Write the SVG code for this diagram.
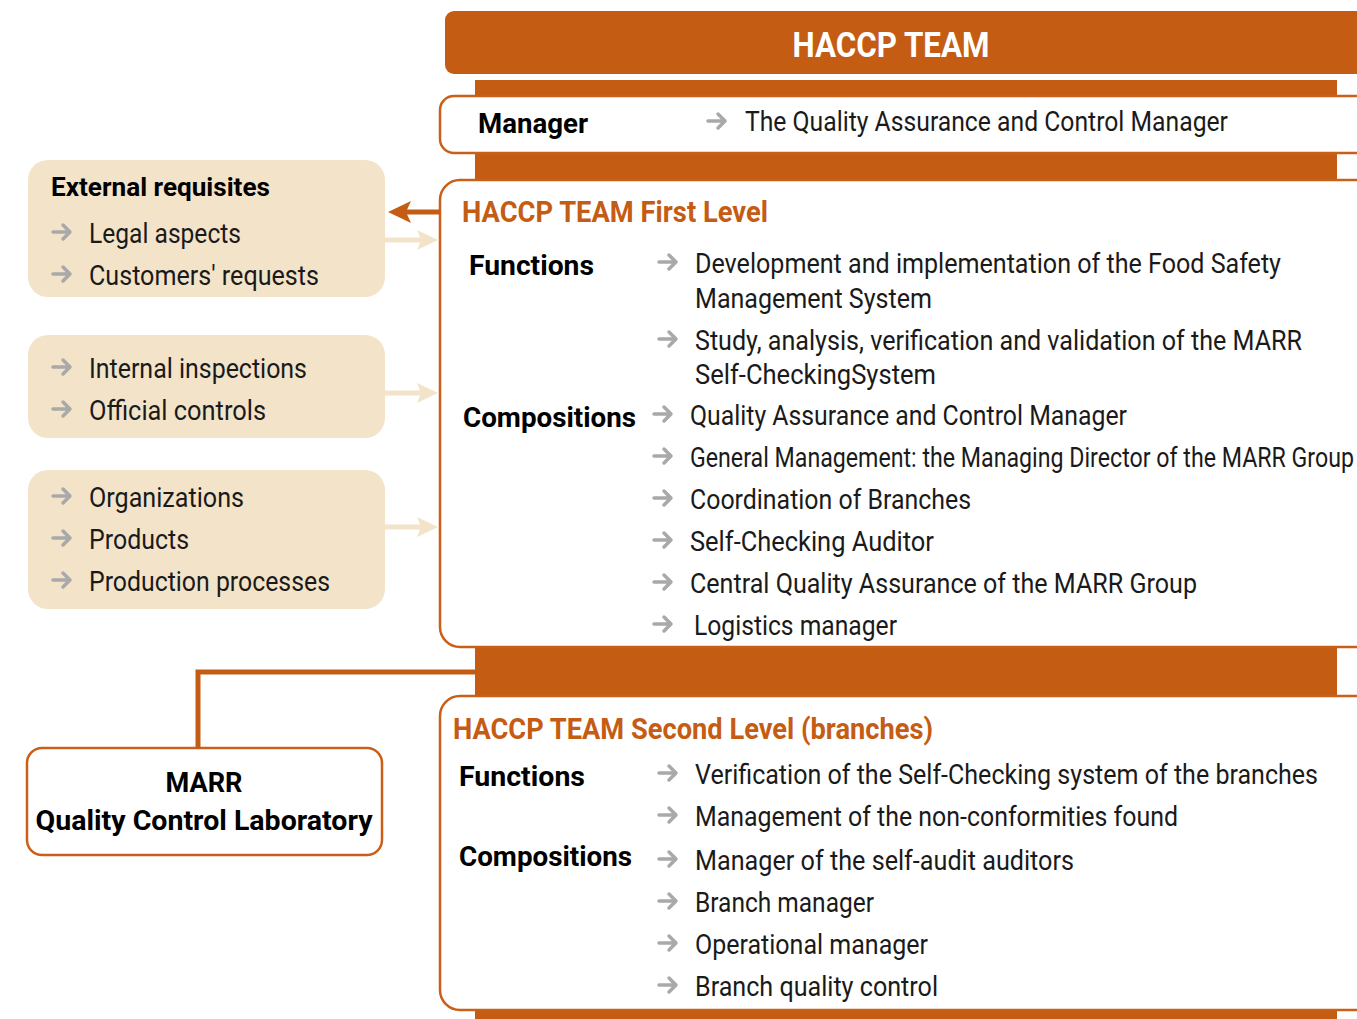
<svg xmlns="http://www.w3.org/2000/svg" xmlns:xlink="http://www.w3.org/1999/xlink" width="1357" height="1019" viewBox="0 0 1357 1019">
<defs>
<style>
.or{fill:#C55C14}
.box{fill:#fff;stroke:#C95F18;stroke-width:2.5}
.beige{fill:#F3E3C9}
.t{font-family:Roboto,"Liberation Sans",sans-serif;font-size:27px;fill:#1a1a1a}
.b{font-family:Roboto,"Liberation Sans",sans-serif;font-size:27px;font-weight:bold;fill:#000}
.h{font-family:Roboto,"Liberation Sans",sans-serif;font-size:29px;font-weight:bold;fill:#C55C14}
.hw{font-family:Roboto,"Liberation Sans",sans-serif;font-size:35px;font-weight:bold;fill:#fff}
</style>
<g id="ga">
<path d="M0 0 H17 M10 -7 L17 0 L10 7" fill="none" stroke="#A9A9A9" stroke-width="3.5" stroke-linecap="round" stroke-linejoin="round"/>
</g>
</defs>

<g id="spine">
<rect class="or" x="475" y="80" width="862" height="939"/>
</g>

<g id="header">
<rect class="or" x="445" y="11" width="940" height="63" rx="9"/>
<text class="hw" x="891" y="57" text-anchor="middle" textLength="197" lengthAdjust="spacingAndGlyphs">HACCP TEAM</text>
</g>

<g id="manager">
<rect class="box" x="440" y="96" width="960" height="57" rx="14"/>
<text class="b" x="478" y="133" textLength="110" lengthAdjust="spacingAndGlyphs">Manager</text>
<use xlink:href="#ga" x="708" y="121"/>
<text class="t" x="745" y="131" textLength="483" lengthAdjust="spacingAndGlyphs">The Quality Assurance and Control Manager</text>
</g>

<g id="first-level">
<rect class="box" x="440" y="180" width="960" height="467" rx="20"/>
<text class="h" x="462" y="222" textLength="306" lengthAdjust="spacingAndGlyphs">HACCP TEAM First Level</text>
<text class="b" x="469" y="275" textLength="125" lengthAdjust="spacingAndGlyphs">Functions</text>
<use xlink:href="#ga" x="659" y="262"/>
<text class="t" x="695" y="273" textLength="586" lengthAdjust="spacingAndGlyphs">Development and implementation of the Food Safety</text>
<text class="t" x="695" y="308" textLength="237" lengthAdjust="spacingAndGlyphs">Management System</text>
<use xlink:href="#ga" x="659" y="339"/>
<text class="t" x="695" y="350" textLength="607" lengthAdjust="spacingAndGlyphs">Study, analysis, verification and validation of the MARR</text>
<text class="t" x="695" y="384" textLength="241" lengthAdjust="spacingAndGlyphs">Self-CheckingSystem</text>
<text class="b" x="463" y="427" textLength="173" lengthAdjust="spacingAndGlyphs">Compositions</text>
<use xlink:href="#ga" x="654" y="414"/>
<text class="t" x="690" y="425" textLength="437" lengthAdjust="spacingAndGlyphs">Quality Assurance and Control Manager</text>
<use xlink:href="#ga" x="654" y="456"/>
<text class="t" x="690" y="467" textLength="664" lengthAdjust="spacingAndGlyphs">General Management: the Managing Director of the MARR Group</text>
<use xlink:href="#ga" x="654" y="498"/>
<text class="t" x="690" y="509" textLength="281" lengthAdjust="spacingAndGlyphs">Coordination of Branches</text>
<use xlink:href="#ga" x="654" y="540"/>
<text class="t" x="690" y="551" textLength="244" lengthAdjust="spacingAndGlyphs">Self-Checking Auditor</text>
<use xlink:href="#ga" x="654" y="582"/>
<text class="t" x="690" y="593" textLength="507" lengthAdjust="spacingAndGlyphs">Central Quality Assurance of the MARR Group</text>
<use xlink:href="#ga" x="654" y="624"/>
<text class="t" x="694" y="635" textLength="203" lengthAdjust="spacingAndGlyphs">Logistics manager</text>
</g>

<g id="second-level">
<rect class="box" x="440" y="696" width="960" height="314" rx="20"/>
<text class="h" x="453" y="739" textLength="480" lengthAdjust="spacingAndGlyphs">HACCP TEAM Second Level (branches)</text>
<text class="b" x="459" y="786" textLength="126" lengthAdjust="spacingAndGlyphs">Functions</text>
<use xlink:href="#ga" x="659" y="773"/>
<text class="t" x="695" y="784" textLength="623" lengthAdjust="spacingAndGlyphs">Verification of the Self-Checking system of the branches</text>
<use xlink:href="#ga" x="659" y="815"/>
<text class="t" x="695" y="826" textLength="483" lengthAdjust="spacingAndGlyphs">Management of the non-conformities found</text>
<text class="b" x="459" y="866" textLength="173" lengthAdjust="spacingAndGlyphs">Compositions</text>
<use xlink:href="#ga" x="659" y="859"/>
<text class="t" x="695" y="870" textLength="379" lengthAdjust="spacingAndGlyphs">Manager of the self-audit auditors</text>
<use xlink:href="#ga" x="659" y="901"/>
<text class="t" x="695" y="912" textLength="179" lengthAdjust="spacingAndGlyphs">Branch manager</text>
<use xlink:href="#ga" x="659" y="943"/>
<text class="t" x="695" y="954" textLength="233" lengthAdjust="spacingAndGlyphs">Operational manager</text>
<use xlink:href="#ga" x="659" y="985"/>
<text class="t" x="695" y="996" textLength="243" lengthAdjust="spacingAndGlyphs">Branch quality control</text>
</g>

<g id="external">
<rect class="beige" x="28" y="160" width="357" height="137" rx="20"/>
<text class="b" x="51" y="196" textLength="219" lengthAdjust="spacingAndGlyphs" style="font-size:26px">External requisites</text>
<use xlink:href="#ga" x="53" y="232"/>
<text class="t" x="89" y="243" textLength="152" lengthAdjust="spacingAndGlyphs">Legal aspects</text>
<use xlink:href="#ga" x="53" y="274"/>
<text class="t" x="89" y="285" textLength="230" lengthAdjust="spacingAndGlyphs">Customers' requests</text>
</g>

<g id="internal">
<rect class="beige" x="28" y="335" width="357" height="103" rx="20"/>
<use xlink:href="#ga" x="53" y="367"/>
<text class="t" x="89" y="378" textLength="218" lengthAdjust="spacingAndGlyphs">Internal inspections</text>
<use xlink:href="#ga" x="53" y="409"/>
<text class="t" x="89" y="420" textLength="177" lengthAdjust="spacingAndGlyphs">Official controls</text>
</g>

<g id="organizations">
<rect class="beige" x="28" y="470" width="357" height="139" rx="20"/>
<use xlink:href="#ga" x="53" y="496"/>
<text class="t" x="89" y="507" textLength="155" lengthAdjust="spacingAndGlyphs">Organizations</text>
<use xlink:href="#ga" x="53" y="538"/>
<text class="t" x="89" y="549" textLength="100" lengthAdjust="spacingAndGlyphs">Products</text>
<use xlink:href="#ga" x="53" y="580"/>
<text class="t" x="89" y="591" textLength="241" lengthAdjust="spacingAndGlyphs">Production processes</text>
</g>

<g id="marr">
<rect x="27" y="748" width="355" height="107" rx="15" fill="#fff" stroke="#C95F18" stroke-width="2.5"/>
<text class="b" x="204" y="792" text-anchor="middle" textLength="77" lengthAdjust="spacingAndGlyphs">MARR</text>
<text class="b" x="204" y="830" text-anchor="middle" textLength="337" lengthAdjust="spacingAndGlyphs">Quality Control Laboratory</text>
</g>

<g id="connectors">
<path d="M440 212 H404" stroke="#C55C14" stroke-width="5" fill="none"/>
<path d="M388 212 L411 201 L406 212 L411 223 Z" fill="#C55C14"/>
<path d="M385 240 H424" stroke="#F3E3C9" stroke-width="5" fill="none"/>
<path d="M438 240 L417 230 L421 240 L417 250 Z" fill="#F3E3C9"/>
<path d="M385 393 H424" stroke="#F3E3C9" stroke-width="5" fill="none"/>
<path d="M438 393 L417 383 L421 393 L417 403 Z" fill="#F3E3C9"/>
<path d="M385 527 H424" stroke="#F3E3C9" stroke-width="5" fill="none"/>
<path d="M438 527 L417 517 L421 527 L417 537 Z" fill="#F3E3C9"/>
<path d="M476 672 H198 V748" stroke="#C55C14" stroke-width="5" fill="none"/>
</g>
</svg>
